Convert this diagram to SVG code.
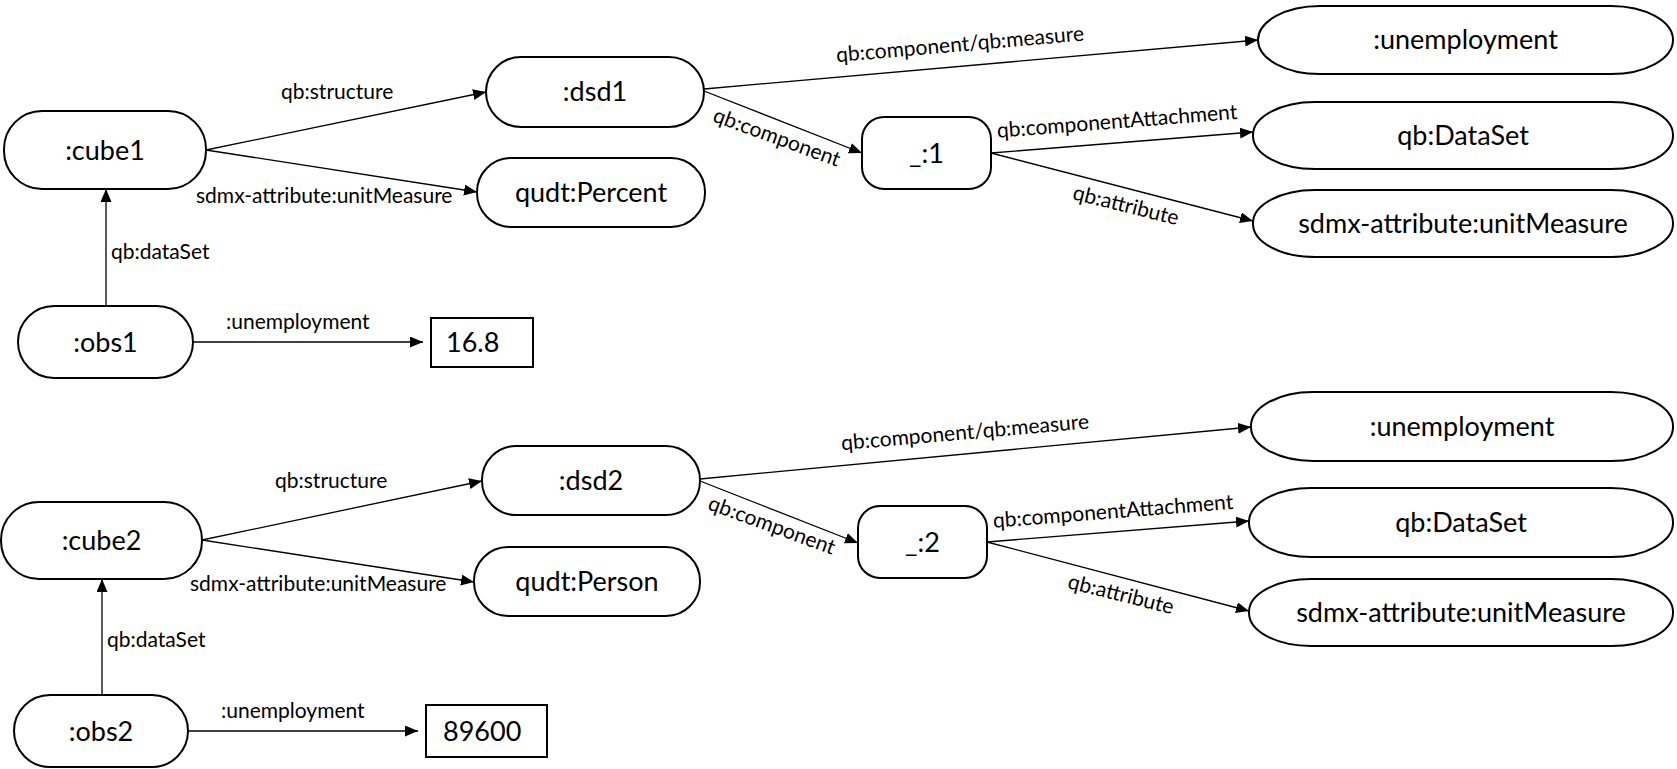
<svg xmlns="http://www.w3.org/2000/svg" width="1677" height="769" viewBox="0 0 1677 769">
  <style>
    .node { fill: #ffffff; stroke: #000000; stroke-width: 2; }
    .nt { font-family: Lato, "Open Sans", "Liberation Sans", sans-serif; font-size: 27px; fill: #000000; text-anchor: middle; }
    .vt { font-family: Lato, "Open Sans", "Liberation Sans", sans-serif; font-size: 27px; fill: #000000; }
    .edge { fill: none; stroke: #000000; stroke-width: 1.3; marker-end: url(#arrow); }
    .lbl { font-family: Lato, "Open Sans", "Liberation Sans", sans-serif; font-size: 21px; fill: #000000; }
    .rl { text-anchor: middle; }
  </style>
  <defs>
    <marker id="arrow" markerUnits="userSpaceOnUse" markerWidth="14" markerHeight="12" refX="13" refY="5.5" orient="auto">
      <path d="M0,0 L13,5.5 L0,11 z" fill="#000000"/>
    </marker>
  </defs>

  <rect width="1677" height="769" fill="#ffffff"/>

  <!-- connectors -->
  <g id="connectors">
    <!-- first cube -->
    <line class="edge" x1="106" y1="306" x2="106" y2="189"/>
    <line class="edge" x1="193" y1="342" x2="423" y2="342"/>
    <line class="edge" x1="206" y1="150" x2="486" y2="92"/>
    <line class="edge" x1="206" y1="150" x2="477" y2="192"/>
    <line class="edge" x1="704" y1="91" x2="862" y2="153"/>
    <line class="edge" x1="704" y1="89" x2="1258" y2="40"/>
    <line class="edge" x1="991" y1="153" x2="1253" y2="132"/>
    <line class="edge" x1="991" y1="153" x2="1253" y2="221"/>

    <!-- second cube -->
    <line class="edge" x1="102" y1="695" x2="102" y2="579"/>
    <line class="edge" x1="188" y1="731" x2="418" y2="731"/>
    <line class="edge" x1="202" y1="540" x2="482" y2="481"/>
    <line class="edge" x1="202" y1="540" x2="474" y2="582"/>
    <line class="edge" x1="700" y1="481" x2="858" y2="543"/>
    <line class="edge" x1="700" y1="479" x2="1251" y2="427"/>
    <line class="edge" x1="987" y1="542" x2="1249" y2="521"/>
    <line class="edge" x1="987" y1="542" x2="1249" y2="611"/>

    <!-- edge labels -->
    <text class="lbl" x="111" y="259">qb:dataSet</text>
    <text class="lbl" x="226" y="329">:unemployment</text>
    <text class="lbl" x="281" y="99">qb:structure</text>
    <text class="lbl" x="196" y="203">sdmx-attribute:unitMeasure</text>
    <text class="lbl rl" x="777" y="137" dy="0.35em" transform="rotate(20 777 137)">qb:component</text>
    <text class="lbl rl" x="960" y="44" dy="0.35em" transform="rotate(-5 960 44)">qb:component/qb:measure</text>
    <text class="lbl rl" x="1117" y="121" dy="0.35em" transform="rotate(-4.5 1117 121)">qb:componentAttachment</text>
    <text class="lbl rl" x="1126" y="205" dy="0.35em" transform="rotate(14 1126 205)">qb:attribute</text>

    <text class="lbl" x="107" y="647">qb:dataSet</text>
    <text class="lbl" x="221" y="718">:unemployment</text>
    <text class="lbl" x="275" y="488">qb:structure</text>
    <text class="lbl" x="190" y="591">sdmx-attribute:unitMeasure</text>
    <text class="lbl rl" x="772" y="525" dy="0.35em" transform="rotate(20 772 525)">qb:component</text>
    <text class="lbl rl" x="965" y="432" dy="0.35em" transform="rotate(-5 965 432)">qb:component/qb:measure</text>
    <text class="lbl rl" x="1113" y="511" dy="0.35em" transform="rotate(-4.5 1113 511)">qb:componentAttachment</text>
    <text class="lbl rl" x="1121" y="594" dy="0.35em" transform="rotate(14 1121 594)">qb:attribute</text>
  </g>

  <!-- nodes: first cube -->
  <g id="cube1"><rect class="node" x="4" y="111" width="202" height="78" rx="38" ry="38"/><text class="nt" x="105" y="160">:cube1</text></g>
  <g id="obs1"><rect class="node" x="18" y="306" width="175" height="72" rx="36" ry="36"/><text class="nt" x="105.5" y="352">:obs1</text></g>
  <g id="value1"><rect class="node" x="431" y="318" width="102" height="49"/><text class="vt" x="446" y="352">16.8</text></g>
  <g id="dsd1"><rect class="node" x="486" y="57" width="218" height="70" rx="35" ry="35"/><text class="nt" x="595" y="101">:dsd1</text></g>
  <g id="percent"><rect class="node" x="477" y="158" width="228" height="69" rx="34" ry="34"/><text class="nt" x="591" y="202">qudt:Percent</text></g>
  <g id="blank1"><rect class="node" x="862" y="117" width="129" height="72" rx="22" ry="22"/><text class="nt" x="926.5" y="163">_:1</text></g>
  <g id="measure1"><rect class="node" x="1258" y="6" width="415" height="68" rx="62" ry="34"/><text class="nt" x="1465.5" y="49">:unemployment</text></g>
  <g id="dataset1"><rect class="node" x="1253" y="102" width="420" height="67" rx="62" ry="33"/><text class="nt" x="1463" y="145">qb:DataSet</text></g>
  <g id="unit1"><rect class="node" x="1253" y="190" width="420" height="67" rx="62" ry="33"/><text class="nt" x="1463" y="233">sdmx-attribute:unitMeasure</text></g>

  <!-- nodes: second cube -->
  <g id="cube2"><rect class="node" x="1" y="502" width="201" height="77" rx="38" ry="38"/><text class="nt" x="101.5" y="550">:cube2</text></g>
  <g id="obs2"><rect class="node" x="14" y="695" width="174" height="72" rx="36" ry="36"/><text class="nt" x="101" y="741">:obs2</text></g>
  <g id="value2"><rect class="node" x="426" y="705" width="121" height="52"/><text class="vt" x="443" y="741">89600</text></g>
  <g id="dsd2"><rect class="node" x="482" y="446" width="218" height="69" rx="34" ry="34"/><text class="nt" x="591" y="490">:dsd2</text></g>
  <g id="person"><rect class="node" x="474" y="547" width="226" height="69" rx="34" ry="34"/><text class="nt" x="587" y="591">qudt:Person</text></g>
  <g id="blank2"><rect class="node" x="858" y="506" width="129" height="72" rx="22" ry="22"/><text class="nt" x="922.5" y="552">_:2</text></g>
  <g id="measure2"><rect class="node" x="1251" y="392" width="422" height="69" rx="62" ry="34"/><text class="nt" x="1462" y="436">:unemployment</text></g>
  <g id="dataset2"><rect class="node" x="1249" y="488" width="424" height="69" rx="62" ry="34"/><text class="nt" x="1461" y="532">qb:DataSet</text></g>
  <g id="unit2"><rect class="node" x="1249" y="579" width="424" height="67" rx="62" ry="33"/><text class="nt" x="1461" y="622">sdmx-attribute:unitMeasure</text></g>
</svg>
